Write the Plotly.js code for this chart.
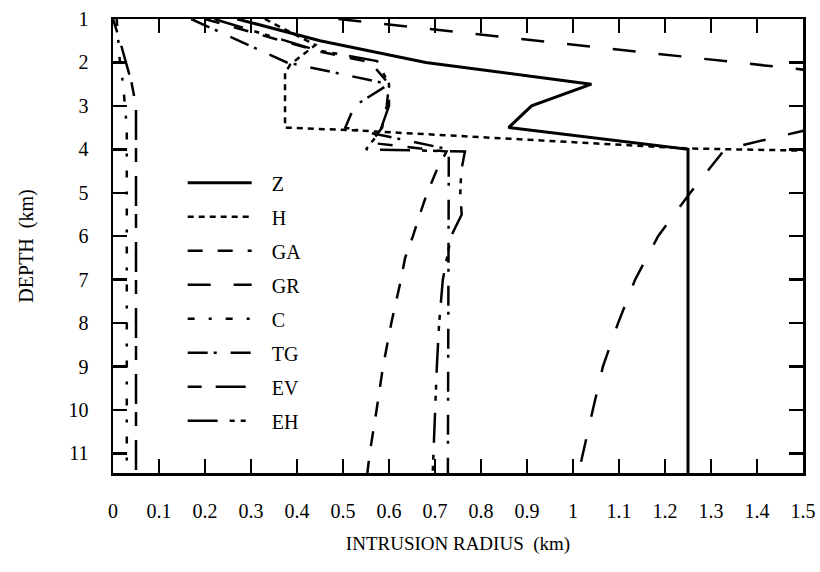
<!DOCTYPE html>
<html><head><meta charset="utf-8">
<script src="https://cdn.plot.ly/plotly-3.0.1.min.js"></script>
<style>html,body{margin:0;padding:0;background:#fff}#c{width:820px;height:572px}</style>
</head><body><div id="c"></div>
<script>
// Depth (km) and intrusion radius (km) for each model
const Z_depth  = [1, 1.5, 2, 2.5, 3, 3.5, 4, 11.45];
const Z_radius = [0.27, 0.45, 0.68, 1.04, 0.91, 0.86, 1.25, 1.25];

const H_depth  = [1, 1.6, 2.05, 2.25, 3.5, 3.56, 3.72, 3.98, 4.05];
const H_radius = [0.33, 0.44, 0.385, 0.374, 0.374, 0.52, 0.80, 1.25, 1.6];

const GA_depth  = [1, 1.75, 2, 2.5, 3, 3.5, 3.85, 4.05, 4.5, 5, 5.5, 6, 6.5, 7, 8, 9, 10, 11, 11.45];
const GA_radius = [0.2, 0.45, 0.56, 0.6, 0.595, 0.585, 0.56, 0.725, 0.703, 0.683, 0.667, 0.652, 0.635, 0.626, 0.605, 0.587, 0.573, 0.558, 0.553];

const GR_depth  = [1, 2, 2.5, 3, 3.5, 4, 5, 6, 7, 8, 9, 10, 11, 11.45];
const GR_radius = [0.49, 1.354, 1.79, 1.7, 1.53, 1.33, 1.255, 1.185, 1.135, 1.098, 1.065, 1.043, 1.022, 1.012];

const C_depth  = [1, 2, 2.5, 3.5, 11.45];
const C_radius = [0.008, 0.015, 0.022, 0.03, 0.03];

const TG_depth  = [1, 2, 2.5, 3, 3.5, 4, 11.45];
const TG_radius = [0.17, 0.378, 0.60, 0.525, 0.505, 0.73, 0.728];

const EV_depth  = [1, 1.5, 2.45, 3, 11.45];
const EV_radius = [0.0, 0.015, 0.04, 0.05, 0.05];

const EH_depth  = [1, 1.71, 1.97, 2.5, 3, 3.6, 4.0, 4.05, 4.5, 5, 5.5, 5.85, 6, 7, 8, 9, 10, 11, 11.45];
const EH_radius = [0.22, 0.44, 0.574, 0.6, 0.6, 0.58, 0.55, 0.765, 0.757, 0.755, 0.758, 0.743, 0.735, 0.717, 0.709, 0.704, 0.70, 0.696, 0.695];

const series = [
  {name: 'Z',  x: Z_radius,  y: Z_depth,  dash: 'solid', w: 3},
  {name: 'H',  x: H_radius,  y: H_depth,  dash: '6px,5px', w: 2.5},
  {name: 'GA', x: GA_radius, y: GA_depth, dash: '15px,15px', w: 2.5},
  {name: 'GR', x: GR_radius, y: GR_depth, dash: '23px,23px', w: 2.5},
  {name: 'C',  x: C_radius,  y: C_depth,  dash: '7px,14px,3px,14px', w: 2.5},
  {name: 'TG', x: TG_radius, y: TG_depth, dash: '20px,6px,3px,14px', w: 2.5},
  {name: 'EV', x: EV_radius, y: EV_depth, dash: '14px,14px,30px,8px', w: 2.5},
  {name: 'EH', x: EH_radius, y: EH_depth, dash: '30px,12px,5px,6px,5px,12px', w: 2.5}
];

const xTicks = [0,0.1,0.2,0.3,0.4,0.5,0.6,0.7,0.8,0.9,1,1.1,1.2,1.3,1.4,1.5];
const yTicks = [1,2,3,4,5,6,7,8,9,10,11];

const pad = '\u00a0\u00a0\u00a0';
const traces = series.map((s, i) => ({
  type: 'scatter', mode: 'lines', name: pad + s.name, x: s.x, y: s.y,
  legendgroup: 'g' + i,
  line: {color: '#000', width: s.w, dash: s.dash}
}));

const font = 'Liberation Serif, Times New Roman, serif';
const layout = {
  width: 820, height: 572,
  margin: {l: 113, r: 17, t: 19, b: 99, autoexpand: false},
  paper_bgcolor: '#fff', plot_bgcolor: '#fff',
  font: {family: font, color: '#000', size: 18},
  showlegend: true,
  legend: {
    x: 0.101, y: 0.682, xanchor: 'left', yanchor: 'top',
    bgcolor: 'rgba(0,0,0,0)', borderwidth: 0,
    traceorder: 'grouped', tracegroupgap: 5,
    itemwidth: 64,
    font: {family: font, size: 20, color: '#000'}
  },
  xaxis: {
    range: [0, 1.5], tickvals: xTicks, ticktext: xTicks.map(String),
    ticks: 'inside', ticklen: 14, tickwidth: 2.5, tickcolor: '#000',
    showline: true, linewidth: 2.5, linecolor: '#000', mirror: 'allticks',
    showgrid: false, zeroline: false,
    ticklabelstandoff: 18,
    tickfont: {family: font, size: 20, color: '#000'},
    title: {text: 'INTRUSION RADIUS  (km)', font: {family: font, size: 19, color: '#000'}, standoff: 16}
  },
  yaxis: {
    range: [11.45, 1], tickvals: yTicks, ticktext: yTicks.map(String),
    ticks: 'inside', ticklen: 14, tickwidth: 2.5, tickcolor: '#000',
    showline: true, linewidth: 2.5, linecolor: '#000', mirror: 'allticks',
    showgrid: false, zeroline: false,
    ticklabelstandoff: 18,
    tickfont: {family: font, size: 20, color: '#000'},
    title: {text: 'DEPTH  (km)', font: {family: font, size: 20, color: '#000'}, standoff: 30}
  }
};

Plotly.newPlot('c', traces, layout, {displayModeBar: false, staticPlot: true});
</script>
</body></html>
